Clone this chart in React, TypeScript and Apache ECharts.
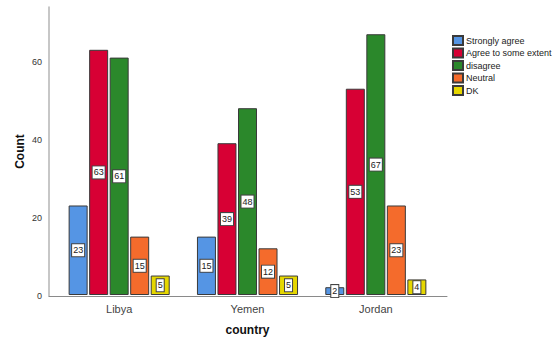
import React, { useEffect, useRef } from "react";
import * as echarts from "echarts";

const countries = ["Libya", "Yemen", "Jordan"];
const responses = ["Strongly agree", "Agree to some extent", "disagree", "Neutral", "DK"];
const stronglyAgree = [23, 15, 2];
const agreeSomeExtent = [63, 39, 53];
const disagree = [61, 48, 67];
const neutral = [15, 12, 23];
const dk = [5, 5, 4];
const yTicks = [0, 20, 40, 60];
const colors = ["#5595e4", "#d70034", "#2b882b", "#f46b2c", "#e6d700"];

const FONT = "Liberation Sans, Arial, sans-serif";

export default function App() {
  const ref = useRef<HTMLDivElement>(null);

  useEffect(() => {
    document.body.style.margin = "0";
    if (!ref.current) return;
    const chart = echarts.init(ref.current, null, { renderer: "svg" });
    const values = [stronglyAgree, agreeSomeExtent, disagree, neutral, dk];

    const series = responses.map((name, i) => ({
      name,
      type: "bar",
      xAxisIndex: 0,
      yAxisIndex: 0,
      data: values[i],
      barWidth: 19,
      barGap: "8%",
      itemStyle: { color: colors[i], borderColor: "#3a3a3a", borderWidth: 1 },
      label: {
        show: true,
        position: "inside",
        fontFamily: FONT,
        fontSize: 9,
        color: "#222",
        backgroundColor: "#fff",
        borderColor: "#444",
        borderWidth: 1,
        padding: [2, 1, 1, 1],
      },
    }));

    chart.setOption({
      animation: false,
      textStyle: { fontFamily: FONT },
      grid: [
        // plotting band for the bars
        { left: 55, right: 117, top: 7, bottom: 45 },
        // slightly wider frame carrying the axis lines
        { left: 49, right: 110, top: 7, bottom: 45 },
      ],
      xAxis: [
        {
          type: "category",
          gridIndex: 0,
          data: countries,
          axisLine: { show: false },
          axisTick: { show: false },
          axisLabel: { fontSize: 11, color: "#444", margin: 8, fontFamily: FONT },
          name: "country",
          nameLocation: "middle",
          nameGap: 29,
          nameMoveOverlap: false,
          nameTextStyle: { fontSize: 12, fontWeight: "bold", color: "#111", fontFamily: FONT },
        },
        {
          type: "value",
          gridIndex: 1,
          min: 0,
          max: 1,
          axisLine: { show: true, lineStyle: { color: "#8a8a8a", width: 1 } },
          axisTick: { show: false },
          axisLabel: { show: false },
          splitLine: { show: false },
        },
      ],
      yAxis: [
        {
          type: "value",
          gridIndex: 0,
          min: 0,
          max: 74,
          show: false,
          splitLine: { show: false },
        },
        {
          type: "value",
          gridIndex: 1,
          min: 0,
          max: 74,
          interval: 20,
          axisLine: { show: true, lineStyle: { color: "#b4b4b4", width: 1.5 } },
          axisTick: { show: false },
          splitLine: { show: false },
          axisLabel: {
            fontSize: 9,
            color: "#333",
            margin: 7,
            fontFamily: FONT,
            formatter: (v: number) => (yTicks.includes(v) ? String(v) : ""),
          },
          name: "Count",
          nameLocation: "middle",
          nameGap: 23,
          nameMoveOverlap: false,
          nameTextStyle: { fontSize: 12, fontWeight: "bold", color: "#111", fontFamily: FONT },
        },
      ],
      legend: {
        orient: "vertical",
        left: 447,
        top: 30,
        icon: "rect",
        itemWidth: 10,
        itemHeight: 9,
        itemGap: 1.5,
        textStyle: { fontSize: 9, color: "#222", fontFamily: FONT, padding: [0, 0, 0, -2] },
        data: responses,
      },
      series,
    });

    return () => chart.dispose();
  }, []);

  return (
    <div
      ref={ref}
      style={{ position: "fixed", left: 0, top: 0, width: 557, height: 341, background: "#fff" }}
    />
  );
}
